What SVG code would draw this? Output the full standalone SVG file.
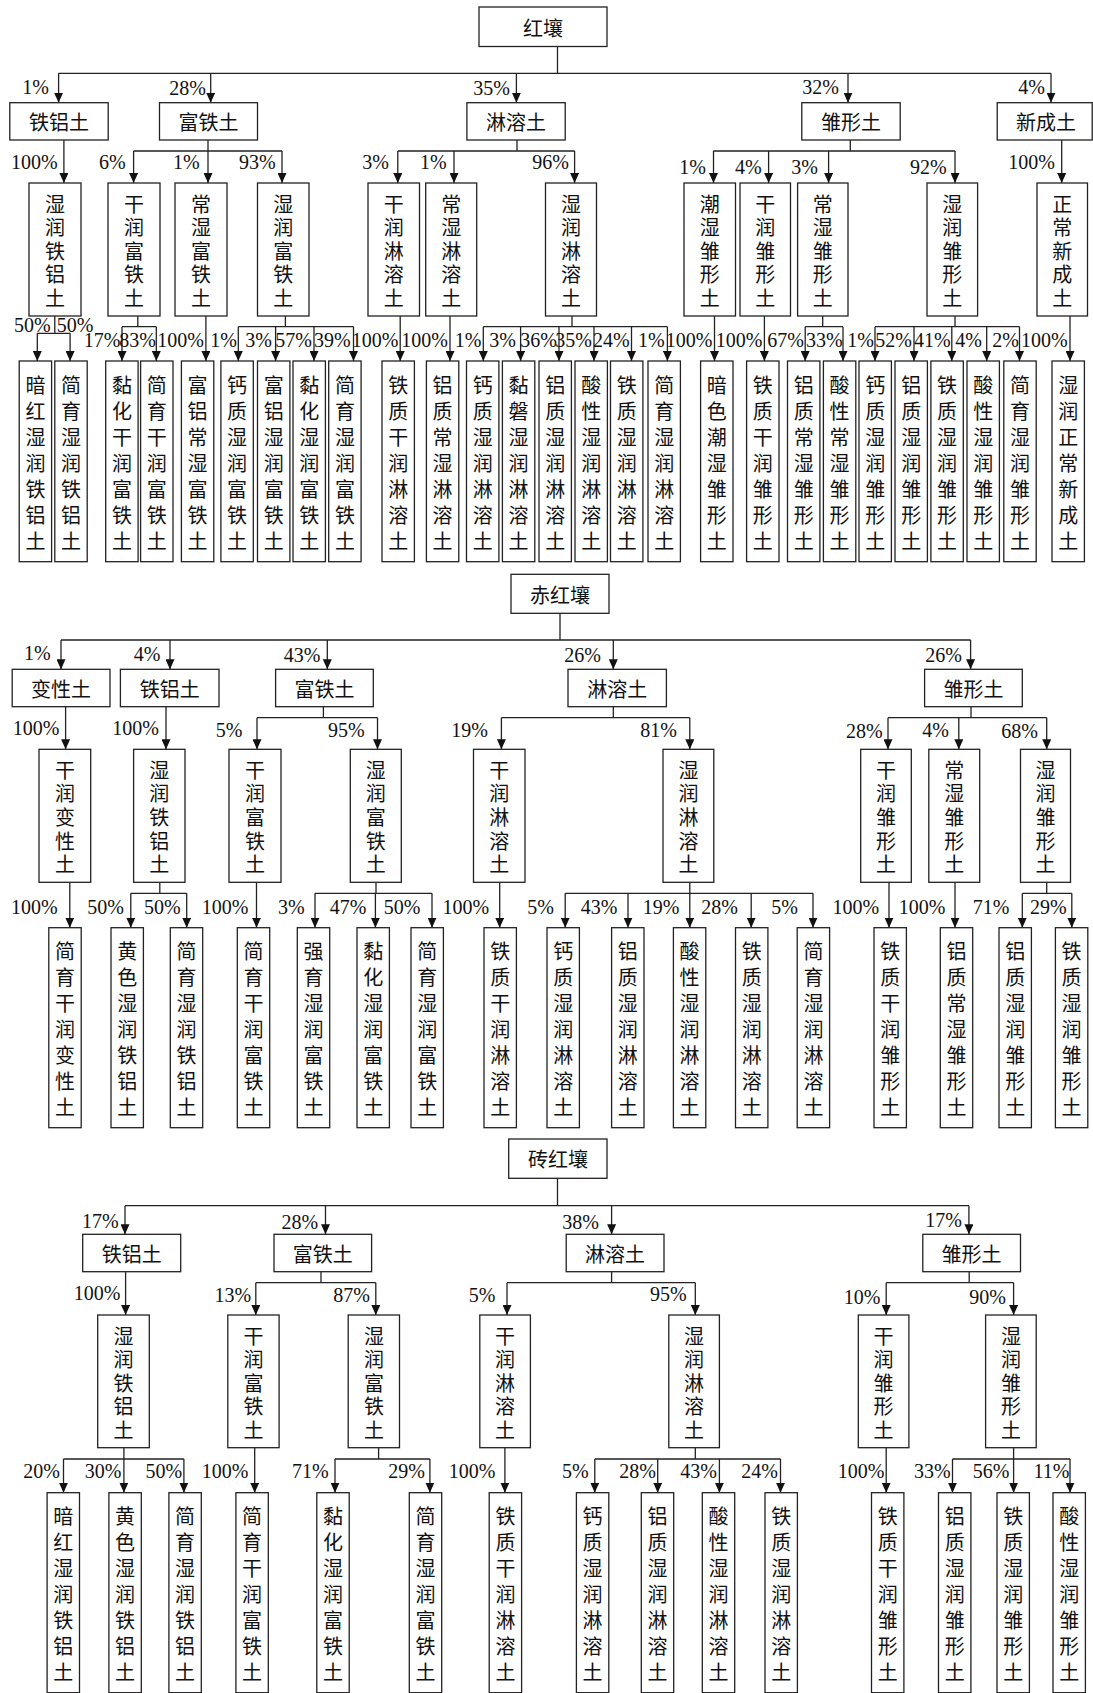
<svg xmlns="http://www.w3.org/2000/svg" width="1093" height="1693" viewBox="0 0 1093 1693">
<style>
.b{fill:#fff;stroke:#222;stroke-width:1.3}
.t{font-family:"Noto Sans CJK SC","Noto Sans CJK TC",sans-serif;font-size:20px;fill:#111;text-anchor:middle;dominant-baseline:central}
.v3,.v4{font-family:"Noto Sans CJK SC","Noto Sans CJK TC",sans-serif;font-size:20px;fill:#111;writing-mode:vertical-rl;text-orientation:upright;text-anchor:start;dominant-baseline:central}
.v3{letter-spacing:3.6px}
.v4{letter-spacing:6px}
.p{font-family:"Liberation Serif",serif;font-size:20px;fill:#111;text-anchor:end}
.c{fill:none;stroke:#222;stroke-width:1.3}
.a{fill:none;stroke:#222;stroke-width:1.3;marker-end:url(#ah)}
</style>
<defs>
<marker id="ah" viewBox="0 0 10 9" refX="10" refY="4.5" markerWidth="10" markerHeight="9" markerUnits="userSpaceOnUse" orient="auto"><path d="M0,0L10,4.5L0,9Z" fill="#111"/></marker>
</defs>
<rect width="1093" height="1693" fill="#fff"/>

<g id="connectors">
<path class="c" d="M557.5,46.5V73.3M58.6,73.3H1051"/>
<path class="a" d="M58.6,73.3V102.7"/><path class="a" d="M210.7,73.3V102.7"/><path class="a" d="M516.4,73.3V102.7"/><path class="a" d="M848,73.3V102.7"/><path class="a" d="M1051,73.3V102.7"/>
<path class="a" d="M63.9,140V183"/>
<path class="c" d="M208,140V151M133.6,151H282"/>
<path class="a" d="M133.6,151V183"/><path class="a" d="M208,151V183"/><path class="a" d="M282,151V183"/>
<path class="c" d="M517,140V151M397.8,151H574.6"/>
<path class="a" d="M397.8,151V183"/><path class="a" d="M454,151V183"/><path class="a" d="M574.6,151V183"/>
<path class="c" d="M850.3,140V151M713.5,151H955"/>
<path class="a" d="M713.5,151V183"/><path class="a" d="M768.6,151V183"/><path class="a" d="M828.6,151V183"/><path class="a" d="M955,151V183"/>
<path class="a" d="M1061.7,140V183"/>
<path class="c" d="M54.8,316V333.3M37.3,333.3H70.1"/>
<path class="a" d="M37.3,333.3V361"/><path class="a" d="M70.1,333.3V361"/>
<path class="c" d="M137.8,316V326.7M122,326.7H156.3"/>
<path class="a" d="M122,326.7V361"/><path class="a" d="M156.3,326.7V361"/>
<path class="a" d="M205.9,316V361"/>
<path class="c" d="M285.4,316V326.7M238.3,326.7H353.5"/>
<path class="a" d="M238.3,326.7V361"/><path class="a" d="M275.6,326.7V361"/><path class="a" d="M314,326.7V361"/><path class="a" d="M353.5,326.7V361"/>
<path class="a" d="M400.2,316V361"/>
<path class="a" d="M450,316V361"/>
<path class="c" d="M572,316V326.7M483.3,326.7H667.4"/>
<path class="a" d="M483.3,326.7V361"/><path class="a" d="M520.6,326.7V361"/><path class="a" d="M559,326.7V361"/><path class="a" d="M594,326.7V361"/><path class="a" d="M631.5,326.7V361"/><path class="a" d="M667.4,326.7V361"/>
<path class="a" d="M714.5,316V361"/>
<path class="a" d="M764.4,316V361"/>
<path class="c" d="M822.7,316V326.7M805.2,326.7H843"/>
<path class="a" d="M805.2,326.7V361"/><path class="a" d="M843,326.7V361"/>
<path class="c" d="M955,316V326.7M875,326.7H1019.5"/>
<path class="a" d="M875,326.7V361"/><path class="a" d="M914,326.7V361"/><path class="a" d="M951.8,326.7V361"/><path class="a" d="M986.7,326.7V361"/><path class="a" d="M1019.5,326.7V361"/>
<path class="a" d="M1070,316V361"/>
<path class="c" d="M560,613.3V640M61,640H970.6"/>
<path class="a" d="M61,640V669.3"/><path class="a" d="M170,640V669.3"/><path class="a" d="M327.3,640V669.3"/><path class="a" d="M613.3,640V669.3"/><path class="a" d="M970.6,640V669.3"/>
<path class="a" d="M65.6,706.7V749.3"/>
<path class="a" d="M166,706.7V749.3"/>
<path class="c" d="M323.4,706.7V717.7M257,717.7H377.5"/>
<path class="a" d="M257,717.7V749.3"/><path class="a" d="M377.5,717.7V749.3"/>
<path class="c" d="M613.3,706.7V717.7M501.4,717.7H689.8"/>
<path class="a" d="M501.4,717.7V749.3"/><path class="a" d="M689.8,717.7V749.3"/>
<path class="c" d="M971,706.7V717.7M888,717.7H1046.7"/>
<path class="a" d="M888,717.7V749.3"/><path class="a" d="M958.8,717.7V749.3"/><path class="a" d="M1046.7,717.7V749.3"/>
<path class="a" d="M69.8,882.3V927.7"/>
<path class="c" d="M159.8,882.3V893.3M130.8,893.3H186.7"/>
<path class="a" d="M130.8,893.3V927.7"/><path class="a" d="M186.7,893.3V927.7"/>
<path class="a" d="M256.5,882.3V927.7"/>
<path class="c" d="M376,882.3V893.3M315,893.3H432"/>
<path class="a" d="M315,893.3V927.7"/><path class="a" d="M375.4,893.3V927.7"/><path class="a" d="M432,893.3V927.7"/>
<path class="a" d="M499.7,882.3V927.7"/>
<path class="c" d="M689.8,882.3V893.3M565.2,893.3H813"/>
<path class="a" d="M565.2,893.3V927.7"/><path class="a" d="M628,893.3V927.7"/><path class="a" d="M689.8,893.3V927.7"/><path class="a" d="M751.2,893.3V927.7"/><path class="a" d="M813,893.3V927.7"/>
<path class="a" d="M889,882.3V927.7"/>
<path class="a" d="M955,882.3V927.7"/>
<path class="c" d="M1046.7,882.3V893.3M1022.3,893.3H1071.8"/>
<path class="a" d="M1022.3,893.3V927.7"/><path class="a" d="M1071.8,893.3V927.7"/>
<path class="c" d="M557.5,1178.3V1205.7M125,1205.7H968.9"/>
<path class="a" d="M125,1205.7V1234.3"/><path class="a" d="M325.5,1205.7V1234.3"/><path class="a" d="M611.6,1205.7V1234.3"/><path class="a" d="M968.9,1205.7V1234.3"/>
<path class="a" d="M125.6,1271.7V1315"/>
<path class="c" d="M321,1271.7V1282.7M255.8,1282.7H375.8"/>
<path class="a" d="M255.8,1282.7V1315"/><path class="a" d="M375.8,1282.7V1315"/>
<path class="c" d="M611.6,1271.7V1282.7M507,1282.7H695.3"/>
<path class="a" d="M507,1282.7V1315"/><path class="a" d="M695.3,1282.7V1315"/>
<path class="c" d="M969.2,1271.7V1282.7M886.2,1282.7H1013.6"/>
<path class="a" d="M886.2,1282.7V1315"/><path class="a" d="M1013.6,1282.7V1315"/>
<path class="c" d="M123.9,1447.7V1459M63.5,1459H183.9"/>
<path class="a" d="M63.5,1459V1492.7"/><path class="a" d="M123.9,1459V1492.7"/><path class="a" d="M183.9,1459V1492.7"/>
<path class="a" d="M254.7,1447.7V1492.7"/>
<path class="c" d="M378.6,1447.7V1459M335,1459H429.9"/>
<path class="a" d="M335,1459V1492.7"/><path class="a" d="M429.9,1459V1492.7"/>
<path class="a" d="M504.9,1447.7V1492.7"/>
<path class="c" d="M695.3,1447.7V1459M594.8,1459H780.5"/>
<path class="a" d="M594.8,1459V1492.7"/><path class="a" d="M657.7,1459V1492.7"/><path class="a" d="M719.4,1459V1492.7"/><path class="a" d="M780.5,1459V1492.7"/>
<path class="a" d="M886.2,1447.7V1492.7"/>
<path class="c" d="M1013.6,1447.7V1459M952.5,1459H1070"/>
<path class="a" d="M952.5,1459V1492.7"/><path class="a" d="M1013.6,1459V1492.7"/><path class="a" d="M1070,1459V1492.7"/>
</g>

<g id="labels">
<text class="p" x="48.8" y="94">1%</text><text class="p" x="206" y="95">28%</text><text class="p" x="510" y="95">35%</text><text class="p" x="839" y="94">32%</text><text class="p" x="1045" y="94">4%</text>
<text class="p" x="57.6" y="169">100%</text><text class="p" x="125.6" y="169">6%</text><text class="p" x="199.6" y="169">1%</text><text class="p" x="275.6" y="169">93%</text>
<text class="p" x="389" y="169">3%</text><text class="p" x="446.6" y="169">1%</text><text class="p" x="569" y="169">96%</text>
<text class="p" x="706" y="174">1%</text><text class="p" x="761.6" y="174">4%</text><text class="p" x="818" y="174">3%</text><text class="p" x="946.6" y="174">92%</text><text class="p" x="1055" y="169">100%</text>
<text class="p" x="50.6" y="332">50%</text><text class="p" x="93.5" y="332">50%</text>
<text class="p" x="120.4" y="347">17%</text><text class="p" x="156" y="347">83%</text><text class="p" x="204" y="347">100%</text>
<text class="p" x="237" y="347">1%</text><text class="p" x="272" y="347">3%</text><text class="p" x="312" y="347">57%</text><text class="p" x="350.7" y="347">39%</text>
<text class="p" x="398.5" y="347">100%</text><text class="p" x="448" y="347">100%</text>
<text class="p" x="481.5" y="347">1%</text><text class="p" x="516" y="347">3%</text><text class="p" x="557" y="347">36%</text><text class="p" x="592" y="347">35%</text><text class="p" x="629.7" y="347">24%</text><text class="p" x="664.6" y="347">1%</text>
<text class="p" x="712.5" y="347">100%</text><text class="p" x="762.5" y="347">100%</text><text class="p" x="804" y="347">67%</text><text class="p" x="842.6" y="347">33%</text>
<text class="p" x="874" y="347">1%</text><text class="p" x="912" y="347">52%</text><text class="p" x="950.7" y="347">41%</text><text class="p" x="982" y="347">4%</text><text class="p" x="1019" y="347">2%</text><text class="p" x="1067.6" y="347">100%</text>
<text class="p" x="50.6" y="660">1%</text><text class="p" x="160.5" y="661">4%</text><text class="p" x="320.3" y="662">43%</text><text class="p" x="601" y="662">26%</text><text class="p" x="962" y="662">26%</text>
<text class="p" x="59.3" y="735">100%</text><text class="p" x="158.8" y="735">100%</text><text class="p" x="242.5" y="737">5%</text><text class="p" x="364.6" y="737">95%</text>
<text class="p" x="487.8" y="737">19%</text><text class="p" x="676.8" y="737">81%</text><text class="p" x="882.7" y="738">28%</text><text class="p" x="949" y="737">4%</text><text class="p" x="1038" y="738">68%</text>
<text class="p" x="57.6" y="914">100%</text><text class="p" x="123.9" y="914">50%</text><text class="p" x="180.7" y="914">50%</text><text class="p" x="248.4" y="914">100%</text>
<text class="p" x="304.6" y="914">3%</text><text class="p" x="366.4" y="914">47%</text><text class="p" x="420.5" y="914">50%</text><text class="p" x="489.2" y="914">100%</text>
<text class="p" x="554" y="914">5%</text><text class="p" x="617.5" y="914">43%</text><text class="p" x="679.3" y="914">19%</text><text class="p" x="738" y="914">28%</text><text class="p" x="798" y="914">5%</text>
<text class="p" x="879.2" y="914">100%</text><text class="p" x="945.5" y="914">100%</text><text class="p" x="1009.4" y="914">71%</text><text class="p" x="1066.6" y="914">29%</text>
<text class="p" x="118.6" y="1228">17%</text><text class="p" x="318.2" y="1229">28%</text><text class="p" x="599" y="1229">38%</text><text class="p" x="962" y="1227">17%</text>
<text class="p" x="120.4" y="1300">100%</text><text class="p" x="251.2" y="1302">13%</text><text class="p" x="369.9" y="1302">87%</text><text class="p" x="495.5" y="1302">5%</text><text class="p" x="686.6" y="1301">95%</text><text class="p" x="880.3" y="1304">10%</text><text class="p" x="1005.9" y="1304">90%</text>
<text class="p" x="60" y="1478">20%</text><text class="p" x="121.4" y="1478">30%</text><text class="p" x="182.1" y="1478">50%</text><text class="p" x="248.4" y="1478">100%</text>
<text class="p" x="328.7" y="1478">71%</text><text class="p" x="425" y="1478">29%</text><text class="p" x="495.5" y="1478">100%</text>
<text class="p" x="588.6" y="1478">5%</text><text class="p" x="655.9" y="1478">28%</text><text class="p" x="717" y="1478">43%</text><text class="p" x="778" y="1478">24%</text>
<text class="p" x="884.5" y="1478">100%</text><text class="p" x="950.7" y="1478">33%</text><text class="p" x="1009.4" y="1478">56%</text><text class="p" x="1069.4" y="1478">11%</text>
</g>

<g id="s1-root"><rect class="b" x="479" y="7" width="128" height="39.5"/><text class="t" x="543" y="27">红壤</text></g>
<g id="s1-tl"><rect class="b" x="9.8" y="102.7" width="98.4" height="37.3"/><text class="t" x="59" y="121.3">铁铝土</text></g>
<g id="s1-ft"><rect class="b" x="159.5" y="102.7" width="98" height="37.3"/><text class="t" x="208.5" y="121.3">富铁土</text></g>
<g id="s1-ll"><rect class="b" x="466.9" y="102.7" width="98.3" height="37.3"/><text class="t" x="516" y="121.3">淋溶土</text></g>
<g id="s1-cx"><rect class="b" x="801.8" y="102.7" width="98.4" height="37.3"/><text class="t" x="851" y="121.3">雏形土</text></g>
<g id="s1-xc"><rect class="b" x="997.2" y="102.7" width="95" height="37.3"/><text class="t" x="1046" y="121.3">新成土</text></g>

<g id="s1-l3-1"><rect class="b" x="29" y="183" width="52" height="133"/><text class="v3" x="55" y="194">湿润铁铝土</text></g>
<g id="s1-l3-2"><rect class="b" x="108" y="183" width="52" height="133"/><text class="v3" x="134" y="194">干润富铁土</text></g>
<g id="s1-l3-3"><rect class="b" x="175" y="183" width="52" height="133"/><text class="v3" x="201" y="194">常湿富铁土</text></g>
<g id="s1-l3-4"><rect class="b" x="257.5" y="183" width="51.5" height="133"/><text class="v3" x="283.2" y="194">湿润富铁土</text></g>
<g id="s1-l3-5"><rect class="b" x="368" y="183" width="51.5" height="133"/><text class="v3" x="393.8" y="194">干润淋溶土</text></g>
<g id="s1-l3-6"><rect class="b" x="425.7" y="183" width="51" height="133"/><text class="v3" x="451.2" y="194">常湿淋溶土</text></g>
<g id="s1-l3-7"><rect class="b" x="545.5" y="183" width="51" height="133"/><text class="v3" x="571" y="194">湿润淋溶土</text></g>
<g id="s1-l3-8"><rect class="b" x="684" y="183" width="51.5" height="133"/><text class="v3" x="709.8" y="194">潮湿雏形土</text></g>
<g id="s1-l3-9"><rect class="b" x="740" y="183" width="50.5" height="133"/><text class="v3" x="765.2" y="194">干润雏形土</text></g>
<g id="s1-l3-10"><rect class="b" x="797.6" y="183" width="50.4" height="133"/><text class="v3" x="822.8" y="194">常湿雏形土</text></g>
<g id="s1-l3-11"><rect class="b" x="927" y="183" width="50.6" height="133"/><text class="v3" x="952.3" y="194">湿润雏形土</text></g>
<g id="s1-l3-12"><rect class="b" x="1037" y="183" width="50.5" height="133"/><text class="v3" x="1062.2" y="194">正常新成土</text></g>

<g id="s1-l4-1"><rect class="b" x="19.2" y="361" width="32.4" height="200.7"/><text class="v4" x="35.4" y="375">暗红湿润铁铝土</text></g>
<g id="s1-l4-2"><rect class="b" x="54.8" y="361" width="32.4" height="200.7"/><text class="v4" x="71" y="375">简育湿润铁铝土</text></g>
<g id="s1-l4-3"><rect class="b" x="105.7" y="361" width="32.4" height="200.7"/><text class="v4" x="121.9" y="375">黏化干润富铁土</text></g>
<g id="s1-l4-4"><rect class="b" x="140.6" y="361" width="32.4" height="200.7"/><text class="v4" x="156.8" y="375">简育干润富铁土</text></g>
<g id="s1-l4-5"><rect class="b" x="181.4" y="361" width="32.4" height="200.7"/><text class="v4" x="197.6" y="375">富铝常湿富铁土</text></g>
<g id="s1-l4-6"><rect class="b" x="220.9" y="361" width="32.4" height="200.7"/><text class="v4" x="237.1" y="375">钙质湿润富铁土</text></g>
<g id="s1-l4-7"><rect class="b" x="257.5" y="361" width="32.4" height="200.7"/><text class="v4" x="273.7" y="375">富铝湿润富铁土</text></g>
<g id="s1-l4-8"><rect class="b" x="293" y="361" width="32.4" height="200.7"/><text class="v4" x="309.2" y="375">黏化湿润富铁土</text></g>
<g id="s1-l4-9"><rect class="b" x="328.7" y="361" width="32.4" height="200.7"/><text class="v4" x="344.9" y="375">简育湿润富铁土</text></g>
<g id="s1-l4-10"><rect class="b" x="382" y="361" width="32.4" height="200.7"/><text class="v4" x="398.2" y="375">铁质干润淋溶土</text></g>
<g id="s1-l4-11"><rect class="b" x="426.4" y="361" width="32.4" height="200.7"/><text class="v4" x="442.6" y="375">铝质常湿淋溶土</text></g>
<g id="s1-l4-12"><rect class="b" x="466.5" y="361" width="32.4" height="200.7"/><text class="v4" x="482.7" y="375">钙质湿润淋溶土</text></g>
<g id="s1-l4-13"><rect class="b" x="502.4" y="361" width="32.4" height="200.7"/><text class="v4" x="518.6" y="375">黏磐湿润淋溶土</text></g>
<g id="s1-l4-14"><rect class="b" x="539" y="361" width="32.4" height="200.7"/><text class="v4" x="555.2" y="375">铝质湿润淋溶土</text></g>
<g id="s1-l4-15"><rect class="b" x="575" y="361" width="32.4" height="200.7"/><text class="v4" x="591.2" y="375">酸性湿润淋溶土</text></g>
<g id="s1-l4-16"><rect class="b" x="610.5" y="361" width="32.4" height="200.7"/><text class="v4" x="626.7" y="375">铁质湿润淋溶土</text></g>
<g id="s1-l4-17"><rect class="b" x="648" y="361" width="32.4" height="200.7"/><text class="v4" x="664.2" y="375">简育湿润淋溶土</text></g>
<g id="s1-l4-18"><rect class="b" x="700.6" y="361" width="32.4" height="200.7"/><text class="v4" x="716.8" y="375">暗色潮湿雏形土</text></g>
<g id="s1-l4-19"><rect class="b" x="746.6" y="361" width="32.4" height="200.7"/><text class="v4" x="762.8" y="375">铁质干润雏形土</text></g>
<g id="s1-l4-20"><rect class="b" x="787.5" y="361" width="32.4" height="200.7"/><text class="v4" x="803.7" y="375">铝质常湿雏形土</text></g>
<g id="s1-l4-21"><rect class="b" x="823.4" y="361" width="32.4" height="200.7"/><text class="v4" x="839.6" y="375">酸性常湿雏形土</text></g>
<g id="s1-l4-22"><rect class="b" x="859" y="361" width="32.4" height="200.7"/><text class="v4" x="875.2" y="375">钙质湿润雏形土</text></g>
<g id="s1-l4-23"><rect class="b" x="895" y="361" width="32.4" height="200.7"/><text class="v4" x="911.2" y="375">铝质湿润雏形土</text></g>
<g id="s1-l4-24"><rect class="b" x="930.9" y="361" width="32.4" height="200.7"/><text class="v4" x="947.1" y="375">铁质湿润雏形土</text></g>
<g id="s1-l4-25"><rect class="b" x="967" y="361" width="32.4" height="200.7"/><text class="v4" x="983.2" y="375">酸性湿润雏形土</text></g>
<g id="s1-l4-26"><rect class="b" x="1003.8" y="361" width="32.4" height="200.7"/><text class="v4" x="1020" y="375">简育湿润雏形土</text></g>
<g id="s1-l4-27"><rect class="b" x="1052" y="361" width="32.4" height="200.7"/><text class="v4" x="1068.2" y="375">湿润正常新成土</text></g>

<g id="s2-root"><rect class="b" x="511" y="574.3" width="98" height="39"/><text class="t" x="560" y="594">赤红壤</text></g>
<g id="s2-bx"><rect class="b" x="12.2" y="669.3" width="97.8" height="37.4"/><text class="t" x="61" y="688">变性土</text></g>
<g id="s2-tl"><rect class="b" x="120.4" y="669.3" width="98.6" height="37.4"/><text class="t" x="169.7" y="688">铁铝土</text></g>
<g id="s2-ft"><rect class="b" x="275.6" y="669.3" width="97.7" height="37.4"/><text class="t" x="324.5" y="688">富铁土</text></g>
<g id="s2-ll"><rect class="b" x="568" y="669.3" width="98.4" height="37.4"/><text class="t" x="617.2" y="688">淋溶土</text></g>
<g id="s2-cx"><rect class="b" x="924.6" y="669.3" width="97.7" height="37.4"/><text class="t" x="973.5" y="688">雏形土</text></g>

<g id="s2-l3-1"><rect class="b" x="39" y="749.3" width="51.7" height="133"/><text class="v3" x="64.9" y="760.3">干润变性土</text></g>
<g id="s2-l3-2"><rect class="b" x="133.6" y="749.3" width="51.4" height="133"/><text class="v3" x="159.3" y="760.3">湿润铁铝土</text></g>
<g id="s2-l3-3"><rect class="b" x="229" y="749.3" width="52" height="133"/><text class="v3" x="255" y="760.3">干润富铁土</text></g>
<g id="s2-l3-4"><rect class="b" x="350.3" y="749.3" width="51" height="133"/><text class="v3" x="375.8" y="760.3">湿润富铁土</text></g>
<g id="s2-l3-5"><rect class="b" x="473.5" y="749.3" width="51.5" height="133"/><text class="v3" x="499.2" y="760.3">干润淋溶土</text></g>
<g id="s2-l3-6"><rect class="b" x="663" y="749.3" width="50.8" height="133"/><text class="v3" x="688.4" y="760.3">湿润淋溶土</text></g>
<g id="s2-l3-7"><rect class="b" x="860.7" y="749.3" width="50.6" height="133"/><text class="v3" x="886" y="760.3">干润雏形土</text></g>
<g id="s2-l3-8"><rect class="b" x="928.8" y="749.3" width="50.9" height="133"/><text class="v3" x="954.2" y="760.3">常湿雏形土</text></g>
<g id="s2-l3-9"><rect class="b" x="1020.5" y="749.3" width="50" height="133"/><text class="v3" x="1045.5" y="760.3">湿润雏形土</text></g>

<g id="s2-l4-1"><rect class="b" x="48.8" y="927.7" width="32.4" height="200"/><text class="v4" x="65" y="941">简育干润变性土</text></g>
<g id="s2-l4-2"><rect class="b" x="111" y="927.7" width="32.4" height="200"/><text class="v4" x="127.2" y="941">黄色湿润铁铝土</text></g>
<g id="s2-l4-3"><rect class="b" x="170.3" y="927.7" width="32.4" height="200"/><text class="v4" x="186.5" y="941">简育湿润铁铝土</text></g>
<g id="s2-l4-4"><rect class="b" x="237.3" y="927.7" width="32.4" height="200"/><text class="v4" x="253.5" y="941">简育干润富铁土</text></g>
<g id="s2-l4-5"><rect class="b" x="297.3" y="927.7" width="32.4" height="200"/><text class="v4" x="313.5" y="941">强育湿润富铁土</text></g>
<g id="s2-l4-6"><rect class="b" x="357" y="927.7" width="32.4" height="200"/><text class="v4" x="373.2" y="941">黏化湿润富铁土</text></g>
<g id="s2-l4-7"><rect class="b" x="411" y="927.7" width="32.4" height="200"/><text class="v4" x="427.2" y="941">简育湿润富铁土</text></g>
<g id="s2-l4-8"><rect class="b" x="484" y="927.7" width="32.4" height="200"/><text class="v4" x="500.2" y="941">铁质干润淋溶土</text></g>
<g id="s2-l4-9"><rect class="b" x="547" y="927.7" width="32.4" height="200"/><text class="v4" x="563.2" y="941">钙质湿润淋溶土</text></g>
<g id="s2-l4-10"><rect class="b" x="611.6" y="927.7" width="32.4" height="200"/><text class="v4" x="627.8" y="941">铝质湿润淋溶土</text></g>
<g id="s2-l4-11"><rect class="b" x="673.4" y="927.7" width="32.4" height="200"/><text class="v4" x="689.6" y="941">酸性湿润淋溶土</text></g>
<g id="s2-l4-12"><rect class="b" x="735.5" y="927.7" width="32.4" height="200"/><text class="v4" x="751.7" y="941">铁质湿润淋溶土</text></g>
<g id="s2-l4-13"><rect class="b" x="797.2" y="927.7" width="32.4" height="200"/><text class="v4" x="813.4" y="941">简育湿润淋溶土</text></g>
<g id="s2-l4-14"><rect class="b" x="874" y="927.7" width="32.4" height="200"/><text class="v4" x="890.2" y="941">铁质干润雏形土</text></g>
<g id="s2-l4-15"><rect class="b" x="940.3" y="927.7" width="32.4" height="200"/><text class="v4" x="956.5" y="941">铝质常湿雏形土</text></g>
<g id="s2-l4-16"><rect class="b" x="999" y="927.7" width="32.4" height="200"/><text class="v4" x="1015.2" y="941">铝质湿润雏形土</text></g>
<g id="s2-l4-17"><rect class="b" x="1055.4" y="927.7" width="32.4" height="200"/><text class="v4" x="1071.6" y="941">铁质湿润雏形土</text></g>

<g id="s3-root"><rect class="b" x="508.7" y="1139" width="98.3" height="39.3"/><text class="t" x="558" y="1158.7">砖红壤</text></g>
<g id="s3-tl"><rect class="b" x="82.7" y="1234.3" width="98" height="37.4"/><text class="t" x="131.7" y="1253">铁铝土</text></g>
<g id="s3-ft"><rect class="b" x="274" y="1234.3" width="97.6" height="37.4"/><text class="t" x="322.8" y="1253">富铁土</text></g>
<g id="s3-ll"><rect class="b" x="566.2" y="1234.3" width="97.8" height="37.4"/><text class="t" x="615" y="1253">淋溶土</text></g>
<g id="s3-cx"><rect class="b" x="922.8" y="1234.3" width="97.7" height="37.4"/><text class="t" x="971.6" y="1253">雏形土</text></g>

<g id="s3-l3-1"><rect class="b" x="97.7" y="1315" width="51.6" height="132.7"/><text class="v3" x="123.5" y="1326">湿润铁铝土</text></g>
<g id="s3-l3-2"><rect class="b" x="227.8" y="1315" width="51.3" height="132.7"/><text class="v3" x="253.5" y="1326">干润富铁土</text></g>
<g id="s3-l3-3"><rect class="b" x="348.2" y="1315" width="51.3" height="132.7"/><text class="v3" x="373.9" y="1326">湿润富铁土</text></g>
<g id="s3-l3-4"><rect class="b" x="479.8" y="1315" width="50.6" height="132.7"/><text class="v3" x="505.1" y="1326">干润淋溶土</text></g>
<g id="s3-l3-5"><rect class="b" x="668.8" y="1315" width="50.6" height="132.7"/><text class="v3" x="694.1" y="1326">湿润淋溶土</text></g>
<g id="s3-l3-6"><rect class="b" x="858.3" y="1315" width="50.6" height="132.7"/><text class="v3" x="883.6" y="1326">干润雏形土</text></g>
<g id="s3-l3-7"><rect class="b" x="985.6" y="1315" width="50.6" height="132.7"/><text class="v3" x="1010.9" y="1326">湿润雏形土</text></g>

<g id="s3-l4-1"><rect class="b" x="47.1" y="1492.7" width="32.4" height="200"/><text class="v4" x="63.3" y="1506.7">暗红湿润铁铝土</text></g>
<g id="s3-l4-2"><rect class="b" x="108.9" y="1492.7" width="32.4" height="200"/><text class="v4" x="125.1" y="1506.7">黄色湿润铁铝土</text></g>
<g id="s3-l4-3"><rect class="b" x="168.9" y="1492.7" width="32.4" height="200"/><text class="v4" x="185.1" y="1506.7">简育湿润铁铝土</text></g>
<g id="s3-l4-4"><rect class="b" x="235.9" y="1492.7" width="32.4" height="200"/><text class="v4" x="252.1" y="1506.7">简育干润富铁土</text></g>
<g id="s3-l4-5"><rect class="b" x="316.8" y="1492.7" width="32.4" height="200"/><text class="v4" x="333" y="1506.7">黏化湿润富铁土</text></g>
<g id="s3-l4-6"><rect class="b" x="409.3" y="1492.7" width="32.4" height="200"/><text class="v4" x="425.5" y="1506.7">简育湿润富铁土</text></g>
<g id="s3-l4-7"><rect class="b" x="489.2" y="1492.7" width="32.4" height="200"/><text class="v4" x="505.4" y="1506.7">铁质干润淋溶土</text></g>
<g id="s3-l4-8"><rect class="b" x="576.4" y="1492.7" width="32.4" height="200"/><text class="v4" x="592.6" y="1506.7">钙质湿润淋溶土</text></g>
<g id="s3-l4-9"><rect class="b" x="641.3" y="1492.7" width="32.4" height="200"/><text class="v4" x="657.5" y="1506.7">铝质湿润淋溶土</text></g>
<g id="s3-l4-10"><rect class="b" x="702.3" y="1492.7" width="32.4" height="200"/><text class="v4" x="718.5" y="1506.7">酸性湿润淋溶土</text></g>
<g id="s3-l4-11"><rect class="b" x="765" y="1492.7" width="32.4" height="200"/><text class="v4" x="781.2" y="1506.7">铁质湿润淋溶土</text></g>
<g id="s3-l4-12"><rect class="b" x="871.5" y="1492.7" width="32.4" height="200"/><text class="v4" x="887.7" y="1506.7">铁质干润雏形土</text></g>
<g id="s3-l4-13"><rect class="b" x="938.5" y="1492.7" width="32.4" height="200"/><text class="v4" x="954.7" y="1506.7">铝质湿润雏形土</text></g>
<g id="s3-l4-14"><rect class="b" x="997" y="1492.7" width="32.4" height="200"/><text class="v4" x="1013.2" y="1506.7">铁质湿润雏形土</text></g>
<g id="s3-l4-15"><rect class="b" x="1053" y="1492.7" width="32.4" height="200"/><text class="v4" x="1069.2" y="1506.7">酸性湿润雏形土</text></g>
</svg>
